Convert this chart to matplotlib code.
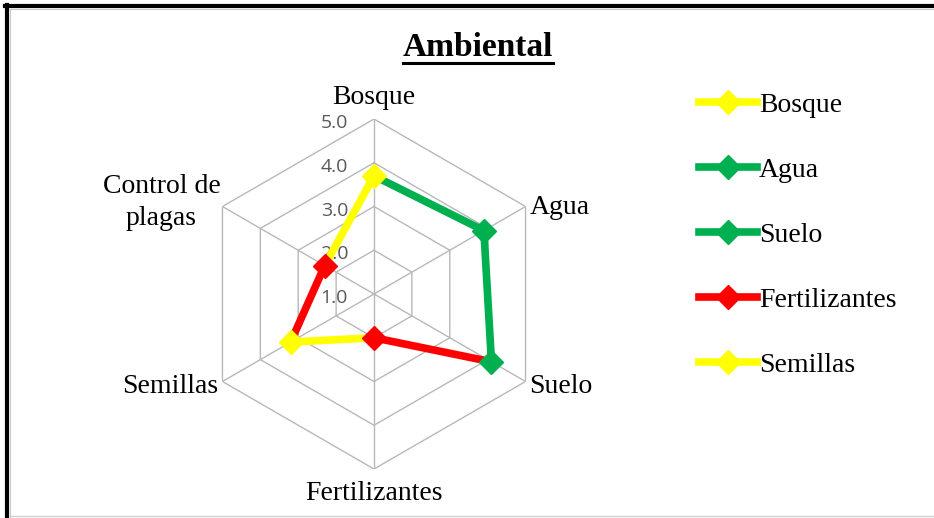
import numpy as np
import matplotlib
matplotlib.use("Agg")
import matplotlib.pyplot as plt
from matplotlib.lines import Line2D
from matplotlib.transforms import offset_copy

# ---- data ----
categories = ["Bosque", "Agua", "Suelo", "Fertilizantes", "Semillas", "Control de\nplagas"]
values = [3.7, 3.9, 4.1, 2.0, 3.2, 2.3]
# each category's series joins its own point to the previous category's point
segment_colors = ["#FFFF00", "#00B050", "#00B050", "#FF0000", "#FFFF00", "#FF0000"]
legend_labels = ["Bosque", "Agua", "Suelo", "Fertilizantes", "Semillas"]
legend_colors = ["#FFFF00", "#00B050", "#00B050", "#FF0000", "#FFFF00"]
tick_levels = [1, 2, 3, 4, 5]
tick_labels = ["1.0", "2.0", "3.0", "4.0", "5.0"]
title = "Ambiental"

W, H = 934, 518
fig = plt.figure(figsize=(W / 100, H / 100), dpi=100)
fig.patch.set_facecolor("white")

cx, cy, R = 374, 294, 175
ax = fig.add_axes([(cx - R) / W, (H - cy - R) / H, 2 * R / W, 2 * R / H], projection="polar")
ax.set_theta_offset(np.pi / 2)
ax.set_theta_direction(-1)
ax.set_ylim(tick_levels[0], tick_levels[-1])
ax.set_axis_off()

n = len(categories)
theta = np.arange(n) * 2 * np.pi / n
grid_c = "#B8B8B8"

# hexagonal grid
for lv in tick_levels[1:]:
    th = np.append(theta, theta[0])
    ax.plot(th, [lv] * (n + 1), color=grid_c, lw=1.0, zorder=1)
for t in theta:
    ax.plot([t, t], [tick_levels[0], tick_levels[-1]], color=grid_c, lw=1.0, zorder=1)

# value tick labels along top axis
for lv, lab in zip(tick_levels, tick_labels):
    tr = offset_copy(ax.transData, fig=fig, x=-26, y=-4, units="dots")
    ax.text(0, lv, lab, transform=tr, ha="right", va="center", fontsize=14,
            family="Open Sans", color="#595959", zorder=2)

# series segments
LW, MS = 5.5, 12
for i in range(n):
    j = (i - 1) % n
    ax.plot([theta[i], theta[j]], [values[i], values[j]], color=segment_colors[i],
            lw=LW, solid_capstyle="butt", zorder=3)
for i in range(n):
    ax.plot([theta[i]], [values[i]], marker="D", ms=MS, color=segment_colors[i],
            mec=segment_colors[i], ls="none", zorder=4)

# category labels
serif = "Liberation Serif"
label_off = [(0, 21, "center", "center"), (4, -1, "left", "center"), (4, -5, "left", "center"),
             (0, -24, "center", "center"), (-4, -5, "right", "center"), (-2, 4, "right", "center")]
for t, lab, (dx, dy, ha, va) in zip(theta, categories, label_off):
    tr = offset_copy(ax.transData, fig=fig, x=dx, y=dy, units="dots")
    ax.text(t, tick_levels[-1], lab, transform=tr, ha=ha, va=va, fontsize=20,
            family=serif, multialignment="center", linespacing=1.35, clip_on=False)

# legend
handles = [Line2D([], [], color=c, lw=LW, marker="D", ms=MS, mec=c) for c in legend_colors]
fig.legend(handles, legend_labels, loc="center left", bbox_to_anchor=(699 / W, 1 - 235 / H),
           frameon=False, prop={"family": serif, "size": 20}, handlelength=2.1,
           handletextpad=0.05, labelspacing=1.42, borderpad=0, borderaxespad=0, numpoints=1)

# title with underline
tt = fig.text(478 / W, 1 - 47 / H, title, ha="center", va="center", fontsize=24,
              fontweight="bold", family=serif)
fig.canvas.draw()
bb = tt.get_window_extent()
fig.add_artist(Line2D([bb.x0 / W, bb.x1 / W], [(H - 63) / H] * 2, color="black", lw=2.2))

# frame
fig.add_artist(Line2D([7 / W, 7 / W], [0, 1 - 5 / H], color="black", lw=3.0))
fig.add_artist(Line2D([5 / W, 1], [1 - 5.5 / H] * 2, color="black", lw=3.0))
fig.add_artist(Line2D([10 / W, 10 / W], [0, 1 - 9 / H], color="#C8C8C8", lw=0.8))
fig.add_artist(Line2D([10 / W, 1], [1 - 9 / H] * 2, color="#C8C8C8", lw=0.8))
fig.add_artist(Line2D([10 / W, 1], [1 - 516 / H] * 2, color="#D0D0D0", lw=1.0))

fig.savefig("out.png", dpi=100)
